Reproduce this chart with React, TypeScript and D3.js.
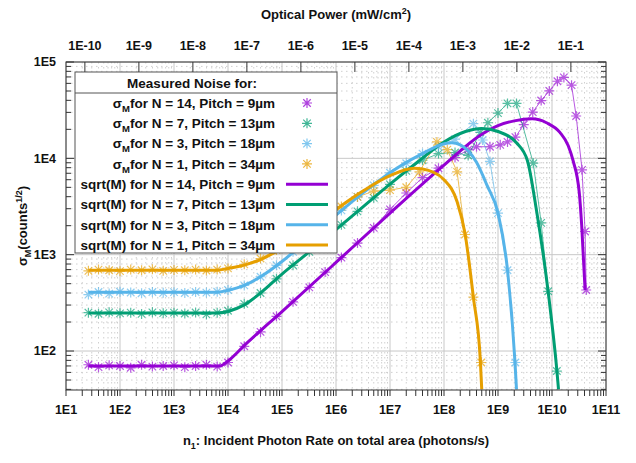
import React from 'react';
import * as d3 from 'd3';

const W = 636, H = 463;
const X0 = 66, X1 = 606, Y0 = 62, Y1 = 390;

// axis ticks
const xTickValues = [1e1, 1e2, 1e3, 1e4, 1e5, 1e6, 1e7, 1e8, 1e9, 1e10, 1e11];
const xTickLabels = ['1E1', '1E2', '1E3', '1E4', '1E5', '1E6', '1E7', '1E8', '1E9', '1E10', '1E11'];
const yTickValues = [1e2, 1e3, 1e4, 1e5];
const yTickLabels = ['1E2', '1E3', '1E4', '1E5'];
const topTickValues = [1e-10, 1e-9, 1e-8, 1e-7, 1e-6, 1e-5, 1e-4, 1e-3, 1e-2, 1e-1];
const topTickLabels = ['1E-10', '1E-9', '1E-8', '1E-7', '1E-6', '1E-5', '1E-4', '1E-3', '1E-2', '1E-1'];

const colors = ['#9400d3', '#009e73', '#56b4e9', '#e69f00'];
const seriesN = ['14', '7', '3', '1'];
const seriesPitch = ['9µm', '13µm', '18µm', '34µm'];

// sqrt(M) model curves [photons/s, counts^1/2]
const modelN14 = [
  [26, 70], [7.1e3, 70], [9.5e3, 77], [2.2e4, 120], [1e5, 257], [1e6, 830], [1e7, 2700],
  [1e8, 8500], [4.7e8, 17400], [1e9, 21900], [2e9, 24500], [4.3e9, 25700], [7.9e9, 23400],
  [1.4e10, 18600], [2e10, 13500], [2.45e10, 9500], [3.2e10, 4400], [3.55e10, 2000], [4.1e10, 430],
];
const modelN7 = [
  [26, 248], [6.3e3, 248], [1e4, 257], [2e4, 300], [4e4, 400], [1e5, 630], [3.2e5, 1070],
  [1e6, 1820], [3.2e6, 3160], [1e7, 5400], [3.2e7, 9100], [1e8, 14800], [2.5e8, 19000],
  [5e8, 20400], [1e9, 19000], [2.2e9, 14500], [3.5e9, 9500], [5.2e9, 2800], [8.5e9, 410],
  [1.23e10, 63], [1.32e10, 40],
];
const modelN3 = [
  [26, 407], [6.3e3, 407], [1e4, 427], [2e4, 480], [4e4, 590], [1e5, 850], [3.2e5, 1480],
  [1e6, 2570], [3.2e6, 4400], [1e7, 7100], [3.2e7, 10500], [1.4e8, 14500], [2e8, 13800],
  [4e8, 9100], [6.3e8, 5200], [1e9, 2700], [1.5e9, 690], [2.05e9, 81], [2.2e9, 40],
];
const modelN1 = [
  [26, 690], [6.3e3, 690], [1e4, 720], [2e4, 780], [4e4, 890], [1e5, 1170], [3.2e5, 1860],
  [1e6, 2950], [3.2e6, 4600], [1e7, 6600], [2.8e7, 7900], [6.3e7, 7200], [1e8, 6000],
  [1.75e8, 3550], [2.45e8, 1660], [3.5e8, 360], [4.7e8, 81], [5e8, 40],
];

// measured sigma_M
const measN14 = [
  [26, 72], [40, 68], [63, 71], [100, 70], [158, 67], [251, 72], [398, 69], [631, 70],
  [1000, 71], [1585, 68], [2512, 70], [3981, 72], [6310, 69], [1e4, 76], [2e4, 112],
  [4e4, 158], [7.9e4, 229], [1.6e5, 324], [3.2e5, 457], [6.3e5, 660], [1.26e6, 933],
  [2.5e6, 1320], [5e6, 1900], [1e7, 2950], [2e7, 4370], [4e7, 6300], [7.9e7, 7900],
  [1.6e8, 10200], [2.8e8, 12300], [4e8, 13200], [7.1e8, 13200], [1.1e9, 13800],
  [1.5e9, 14800], [2.1e9, 16600], [3e9, 22400], [4.4e9, 30200], [6.3e9, 39800],
  [8.9e9, 50100], [1.26e10, 63100], [1.66e10, 69200], [2.3e10, 57500], [2.8e10, 27500],
  [3.6e10, 7600], [4.1e10, 1740], [4.3e10, 430],
];
const measN7 = [
  [26, 250], [40, 244], [63, 252], [100, 246], [158, 250], [251, 243], [398, 252], [631, 247],
  [1000, 250], [1585, 245], [2512, 251], [3981, 240], [6310, 250], [1e4, 262], [2e4, 309],
  [4e4, 400], [7.9e4, 562], [1.6e5, 776], [3.2e5, 1070], [6.3e5, 1480], [1.26e6, 2040],
  [2.5e6, 2820], [5e6, 3890], [1e7, 5370], [2e7, 7400], [4e7, 9550], [7.9e7, 11200],
  [1.6e8, 11500], [2.8e8, 10700], [4.7e8, 18600], [6.5e8, 23400], [1e9, 29500],
  [1.5e9, 37200], [2.2e9, 37200], [4.5e9, 8900], [6.3e9, 2140], [8.5e9, 417], [1.23e10, 62],
];
const measN3 = [
  [26, 385], [40, 410], [63, 395], [100, 412], [158, 405], [251, 398], [398, 410], [631, 402],
  [1000, 408], [1585, 400], [2512, 410], [3981, 404], [6310, 412], [1e4, 430], [2e4, 480],
  [4e4, 590], [7.9e4, 776], [1.6e5, 1070], [3.2e5, 1480], [6.3e5, 2040], [1.26e6, 2880],
  [2.5e6, 3980], [5e6, 5250], [1e7, 7080], [2e7, 8900], [4e7, 11200], [7.9e7, 13200],
  [1.6e8, 15800], [3.5e8, 22900], [5.2e8, 15500], [7.1e8, 9300], [1e9, 2700],
  [1.5e9, 690], [2.1e9, 76],
];
const measN1 = [
  [26, 680], [40, 700], [63, 690], [100, 675], [158, 700], [251, 690], [398, 705], [631, 680],
  [1000, 695], [1585, 690], [2512, 700], [3981, 685], [6310, 700], [1e4, 720], [2e4, 794],
  [4e4, 912], [7.9e4, 1120], [1.6e5, 1450], [3.2e5, 1860], [6.3e5, 2450], [1.26e6, 3160],
  [2.5e6, 3980], [5e6, 4570], [1e7, 4680], [2e7, 5010], [3.5e7, 7240], [7.4e7, 14800],
  [1.15e8, 12300], [1.75e8, 7240], [2.45e8, 1620], [3.5e8, 363], [4.9e8, 76],
];

const models = [modelN14, modelN7, modelN3, modelN1];
const measured = [measN14, measN7, measN3, measN1];

const FONT = '"Liberation Sans", Arial, sans-serif';

function star(cx: number, cy: number, r: number) {
  const a = r * 0.75;
  return `M${cx - r},${cy}H${cx + r}M${cx},${cy - r}V${cy + r}` +
    `M${cx - a},${cy - a}L${cx + a},${cy + a}M${cx - a},${cy + a}L${cx + a},${cy - a}`;
}

export default function App() {
  const x = d3.scaleLog().domain([1e1, 1e11]).range([X0, X1]);
  const y = d3.scaleLog().domain([39.4, 1e5]).range([Y1, Y0]);
  const xTop = d3.scaleLog().domain([4.47e-11, 4.47e-1]).range([X0, X1]);

  const xMinor: number[] = [];
  for (let e = 1; e < 11; e++) for (let m = 2; m <= 9; m++) xMinor.push(m * Math.pow(10, e));
  const yMinor: number[] = [];
  for (let e = 1; e < 5; e++) for (let m = 2; m <= 9; m++) {
    const v = m * Math.pow(10, e);
    if (v > 39.4) yMinor.push(v);
  }

  const line = d3.line<number[]>().x(d => x(d[0])).y(d => y(d[1]));
  const smooth = d3.line<number[]>().x(d => x(d[0])).y(d => y(d[1])).curve(d3.curveMonotoneX);

  const legendX = 75, legendY = 72, legendW = 262, legendH = 181;
  const rowY = (i: number) => 103 + i * 20.3;

  return (
    <svg width={W} height={H} style={{ position: 'absolute', left: 0, top: 0, background: '#fff' }}
      fontFamily={FONT} fontWeight="bold">
      <defs>
        <clipPath id="plot"><rect x={X0} y={Y0} width={X1 - X0} height={Y1 - Y0} /></clipPath>
      </defs>

      {/* grid */}
      <g>
        {xMinor.map((v, i) => (
          <line key={'xm' + i} x1={x(v)} x2={x(v)} y1={Y0} y2={Y1} stroke="#c4c4c4" strokeWidth={0.8} strokeDasharray="1.5,3.5" />
        ))}
        {yMinor.map((v, i) => (
          <line key={'ym' + i} x1={X0} x2={X1} y1={y(v)} y2={y(v)} stroke="#c4c4c4" strokeWidth={0.8} strokeDasharray="1.5,3.5" />
        ))}
        {xTickValues.map((v, i) => (
          <line key={'xg' + i} x1={x(v)} x2={x(v)} y1={Y0} y2={Y1} stroke="#c8c8c8" strokeWidth={1} />
        ))}
        {yTickValues.map((v, i) => (
          <line key={'yg' + i} x1={X0} x2={X1} y1={y(v)} y2={y(v)} stroke="#c8c8c8" strokeWidth={1} />
        ))}
      </g>

      <g clipPath="url(#plot)">
        {measured.map((s, i) => (
          <g key={'meas' + i} stroke={colors[i]} fill="none" opacity={0.65}>
            <path d={line(s) || ''} strokeWidth={1} />
            {s.map((d, j) => (
              <path key={j} d={star(x(d[0]), y(d[1]), 5)} strokeWidth={1.2} />
            ))}
          </g>
        ))}
        {models.map((s, i) => (
          <path key={'model' + i} d={smooth(s) || ''} stroke={colors[i]} strokeWidth={3} fill="none" />
        ))}
      </g>

      {/* legend */}
      <g>
        <rect x={legendX} y={legendY} width={legendW} height={legendH} fill="#fff" stroke="#555" strokeWidth={1} />
        <line x1={legendX} x2={legendX + legendW} y1={93} y2={93} stroke="#555" strokeWidth={1} />
        <text x={192} y={83} dy="0.35em" textAnchor="middle" fontSize={13.5} fill="#111">Measured Noise for:</text>
        {seriesN.map((n, i) => (
          <g key={'lm' + i}>
            <text x={275} y={rowY(i)} dy="0.35em" textAnchor="end" fontSize={13.5} fill="#111">
              <tspan>σ</tspan>
              <tspan fontSize={9.5} dy={4}>M</tspan>
              <tspan dy={-4}>{`for N = ${n}, Pitch = ${seriesPitch[i]}`}</tspan>
            </text>
            <path d={star(307, rowY(i), 5)} stroke={colors[i]} strokeWidth={1.2} fill="none" opacity={0.75} />
          </g>
        ))}
        {seriesN.map((n, i) => (
          <g key={'lf' + i}>
            <text x={275} y={rowY(i + 4)} dy="0.35em" textAnchor="end" fontSize={13.5} fill="#111">
              {`sqrt(M) for N = ${n}, Pitch = ${seriesPitch[i]}`}
            </text>
            <line x1={286} x2={328} y1={rowY(i + 4)} y2={rowY(i + 4)} stroke={colors[i]} strokeWidth={3} />
          </g>
        ))}
      </g>

      {/* frame and ticks */}
      <rect x={X0} y={Y0} width={X1 - X0} height={Y1 - Y0} fill="none" stroke="#333" strokeWidth={1} />
      {xTickValues.concat(xMinor).map((v, i) => (
        <line key={'xt' + i} x1={x(v)} x2={x(v)} y1={Y1} y2={Y1 + 6} stroke="#333" />
      ))}
      {yTickValues.map((v, i) => (
        <g key={'yt' + i}>
          <line x1={X0} x2={X0 + 8} y1={y(v)} y2={y(v)} stroke="#333" />
          <line x1={X1} x2={X1 - 8} y1={y(v)} y2={y(v)} stroke="#333" />
        </g>
      ))}
      {yMinor.map((v, i) => (
        <g key={'ytm' + i}>
          <line x1={X0} x2={X0 + 5} y1={y(v)} y2={y(v)} stroke="#333" />
          <line x1={X1} x2={X1 - 5} y1={y(v)} y2={y(v)} stroke="#333" />
        </g>
      ))}
      {topTickValues.map((v, i) => (
        <line key={'tt' + i} x1={xTop(v)} x2={xTop(v)} y1={Y0} y2={Y0 + 10} stroke="#333" />
      ))}

      {/* tick labels */}
      {xTickValues.map((v, i) => (
        <text key={'xl' + i} x={x(v)} y={410} dy="0.35em" textAnchor="middle" fontSize={12.5} fill="#111">{xTickLabels[i]}</text>
      ))}
      {yTickValues.map((v, i) => (
        <text key={'yl' + i} x={56} y={y(v)} dy="0.35em" textAnchor="end" fontSize={12.5} fill="#111">{yTickLabels[i]}</text>
      ))}
      {topTickValues.map((v, i) => (
        <text key={'tl' + i} x={xTop(v)} y={46} dy="0.35em" textAnchor="middle" fontSize={12.5} fill="#111">{topTickLabels[i]}</text>
      ))}

      {/* axis titles */}
      <text x={336} y={14} dy="0.35em" textAnchor="middle" fontSize={13} fill="#111">
        <tspan>Optical Power (mW/cm</tspan>
        <tspan fontSize={9} dy={-5}>2</tspan>
        <tspan dy={5}>)</tspan>
      </text>
      <text x={336} y={440} dy="0.35em" textAnchor="middle" fontSize={13} fill="#111">
        <tspan>n</tspan>
        <tspan fontSize={9} dy={4}>1</tspan>
        <tspan dy={-4}>: Incident Photon Rate on total area (photons/s)</tspan>
      </text>
      <text transform="translate(22,226) rotate(-90)" dy="0.35em" textAnchor="middle" fontSize={13} fill="#111">
        <tspan>σ</tspan>
        <tspan fontSize={9} dy={4}>M</tspan>
        <tspan dy={-4}>(counts</tspan>
        <tspan fontSize={9} dy={-5}>1/2</tspan>
        <tspan dy={5}>)</tspan>
      </text>
    </svg>
  );
}
